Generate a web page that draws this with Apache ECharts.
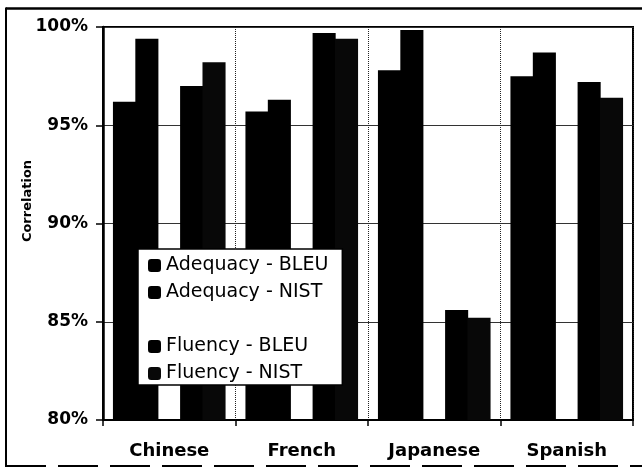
<!DOCTYPE html>
<html>
<head>
<meta charset="utf-8">
<script src="https://cdn.jsdelivr.net/npm/echarts@6/dist/echarts.min.js"></script>
<style>
html,body{margin:0;padding:0;background:#fff;overflow:hidden;}
#chart{width:642px;height:468px;}
</style>
</head>
<body>
<div id="chart"></div>
<script>
var categories = ['Chinese', 'French', 'Japanese', 'Spanish'];
var adequacyBLEU = [96.2, 95.7, 97.8, 97.5];
var adequacyNIST = [99.4, 96.3, 99.85, 98.7];
var blankSeries = [null, null, null, null];
var fluencyBLEU = [97.0, 99.7, 85.6, 97.2];
var fluencyNIST = [98.2, 99.4, 85.2, 96.4];
var yTicks = { min: 80, max: 100, interval: 5 };

var chart = echarts.init(document.getElementById('chart'));
function bar(name, data, color) {
  return {
    name: name, type: 'bar', data: data,
    barGap: '-3%', barCategoryGap: '15%',
    itemStyle: { color: color },
    emphasis: { disabled: true }
  };
}
chart.setOption({
  animation: false,
  backgroundColor: '#fff',
  graphic: [{
    type: 'line', shape: { x1: 6, y1: 8.5, x2: 642, y2: 8.5 },
    style: { stroke: '#000', lineWidth: 2.5 }, silent: true, z: 100
  }, {
    type: 'line', shape: { x1: 6, y1: 7.5, x2: 6, y2: 467 },
    style: { stroke: '#000', lineWidth: 2 }, silent: true, z: 100
  }, {
    type: 'line', shape: { x1: 6, y1: 466, x2: 642, y2: 466 },
    style: { stroke: '#000', lineWidth: 2, lineDash: [40, 12] }, silent: true, z: 100
  }, {
    type: 'text', x: 28, y: 201, rotation: Math.PI / 2,
    style: { text: 'Correlation', fontFamily: 'DejaVu Sans', fontWeight: 'bold', fontSize: 13, fill: '#000', align: 'center', verticalAlign: 'middle' },
    silent: true
  }],
  grid: { left: 103, right: 9, top: 27, bottom: 48, show: true, borderColor: '#000', borderWidth: 2, backgroundColor: 'transparent' },
  legend: {
    left: 138, top: 249, orient: 'vertical',
    backgroundColor: '#fff', borderColor: '#000', borderWidth: 1.5,
    padding: [7, 14, 2, 10],
    itemWidth: 13, itemHeight: 13, itemGap: 8,
    textStyle: { fontFamily: 'DejaVu Sans', fontSize: 19, color: '#000', lineHeight: 19 },
    data: ['Adequacy - BLEU', 'Adequacy - NIST', ' ', 'Fluency - BLEU', 'Fluency - NIST'],
    selectedMode: false
  },
  xAxis: {
    type: 'category', data: categories,
    axisLine: { show: true, lineStyle: { color: '#000', width: 2 } },
    axisTick: { show: true, length: 6, lineStyle: { color: '#000', width: 1.5 } },
    splitLine: { show: true, lineStyle: { color: '#222', width: 1, type: 'dotted' } },
    axisLabel: { margin: 22, color: '#000', fontFamily: 'DejaVu Sans', fontWeight: 'bold', fontSize: 18 }
  },
  yAxis: {
    type: 'value', min: yTicks.min, max: yTicks.max, interval: yTicks.interval,
    axisLine: { show: true, lineStyle: { color: '#000', width: 2.5 } },
    axisTick: { show: true, length: 7, lineStyle: { color: '#000', width: 1.5 } },
    splitLine: { show: true, lineStyle: { color: '#333', width: 1 } },
    axisLabel: { margin: 15, color: '#000', fontFamily: 'DejaVu Sans', fontWeight: 'bold', fontSize: 17, formatter: '{value}%' }
  },
  series: [
    bar('Adequacy - BLEU', adequacyBLEU, '#000'),
    bar('Adequacy - NIST', adequacyNIST, '#000'),
    bar(' ', blankSeries, 'rgba(0,0,0,0)'),
    bar('Fluency - BLEU', fluencyBLEU, '#000'),
    bar('Fluency - NIST', fluencyNIST, '#080808')
  ]
});
</script>
</body>
</html>
